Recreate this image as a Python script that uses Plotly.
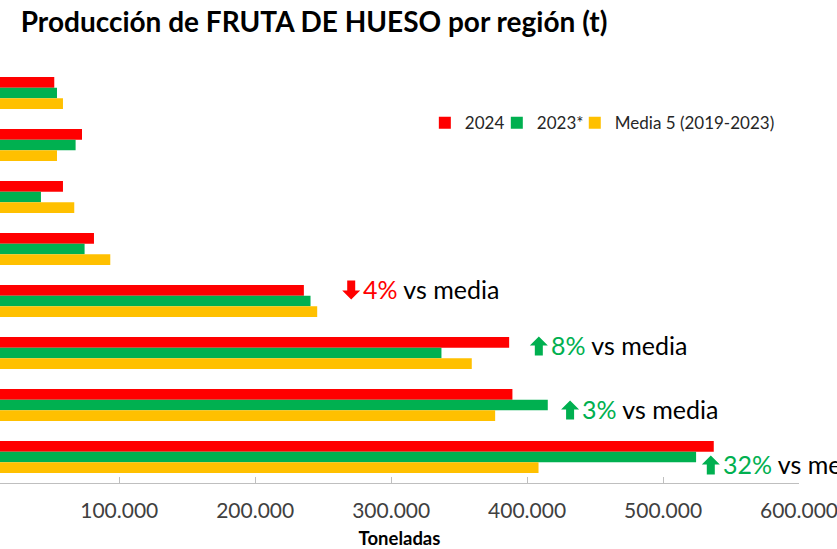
import plotly.graph_objects as go

regions = ["Región A", "Región B", "Región C", "Región D",
           "Región E", "Región F", "Región G", "Región H"]
v2024 = [52200, 72600, 58600, 81400, 235800, 386800, 389200, 537300]
v2023 = [54200, 67900, 42400, 74500, 240700, 337000, 415200, 524300]
media5 = [58600, 54200, 66900, 93400, 245600, 359300, 376500, 408400]
series_names = ["2024", "2023*", "Media 5 (2019-2023)"]
colors = ["#FF0000", "#00B050", "#FFC000"]

# annotated regions: index, x position of label, vertical shift (px)
annot_idx = [4, 5, 6, 7]
annot_x = [264000, 402000, 425000, 528500]
annot_shift = [12, 8, -4, -7]

FONT = "Lato"
PLOT_W = 799.3
X_RANGE = [12280, 600000]

fig = go.Figure()
legend_ids = ["legend", "legend2", "legend3"]
for name, vals, col, lg in zip(series_names, [v2024, v2023, media5], colors, legend_ids):
    fig.add_trace(go.Bar(y=regions, x=vals, name=name, orientation="h", legend=lg,
                         marker=dict(color=col, line=dict(width=0))))
# invisible trace so the overlay axis (inside tick marks + axis line) is drawn
fig.add_trace(go.Scatter(x=[X_RANGE[0]], y=[regions[0]], xaxis="x2", yaxis="y",
                         mode="markers", marker=dict(opacity=0), showlegend=False,
                         hoverinfo="skip"))

for i, ax, sh in zip(annot_idx, annot_x, annot_shift):
    pct = round((v2024[i] / media5[i] - 1) * 100)
    col = "#FF0000" if pct < 0 else "#00B050"
    if pct < 0:
        path = "M9,-9.5 L18,-0.5 L13,-0.5 L13,9.5 L5,9.5 L5,-0.5 L0,-0.5 Z"
    else:
        path = "M9,9.5 L18,0.5 L13,0.5 L13,-9.5 L5,-9.5 L5,0.5 L0,0.5 Z"
    pts = []
    for tok in path.split():
        cmd = tok[0] if tok[0].isalpha() else ""
        rest = tok[1:] if cmd else tok
        if rest:
            px, py = rest.split(",")
            pts.append(f"{cmd}{float(px)},{float(py) + sh - 1}")
        else:
            pts.append(cmd)
    fig.add_shape(type="path", path=" ".join(pts), xref="x", yref="y",
                  xsizemode="pixel", ysizemode="pixel", xanchor=ax, yanchor=regions[i],
                  fillcolor=col, line=dict(width=0), layer="above")
    txt = f"<span style='color:{col}'>{abs(pct)}%</span> vs media"
    fig.add_annotation(x=ax, y=regions[i], xref="x", yref="y", text=txt,
                       showarrow=False, xanchor="left", yanchor="middle",
                       xshift=19, yshift=sh,
                       font=dict(family=FONT, size=25, color="#000000"))

legend_common = dict(orientation="h", xanchor="left", y=0.865, yanchor="middle",
                     font=dict(family=FONT, size=17, color="#262626"),
                     itemwidth=30, bgcolor="rgba(0,0,0,0)")
legend_px = [425, 497, 575]

fig.update_layout(
    width=837, height=549,
    margin=dict(l=0, r=38, t=67, b=66, autoexpand=False),
    paper_bgcolor="white", plot_bgcolor="white",
    barmode="group", bargap=0.38, bargroupgap=0,
    separators=",.",
    font=dict(family=FONT, color="#404040"),
    title=dict(text="<b>Producción de FRUTA DE HUESO por región (t)</b>",
               x=0.026, xanchor="left", xref="paper", y=0.96, yanchor="middle",
               font=dict(family=FONT, size=28, color="#000000")),
    legend=dict(x=legend_px[0] / PLOT_W, **legend_common),
    legend2=dict(x=legend_px[1] / PLOT_W, **legend_common),
    legend3=dict(x=legend_px[2] / PLOT_W, **legend_common),
    showlegend=True,
    xaxis=dict(range=X_RANGE, tickmode="linear", tick0=0, dtick=100000,
               tickformat=",d", showgrid=False, zeroline=False, automargin=False,
               showline=False, ticks="outside", ticklen=9,
               tickcolor="rgba(0,0,0,0)", ticklabeloverflow="allow",
               tickfont=dict(family=FONT, size=21, color="#404040"),
               title=dict(text="<b>Toneladas</b>", standoff=15,
                          font=dict(family=FONT, size=18.5, color="#000000"))),
    xaxis2=dict(overlaying="x", anchor="y", side="bottom", range=X_RANGE,
                tickmode="linear", tick0=0, dtick=100000, automargin=False,
                showticklabels=False, showgrid=False, zeroline=False,
                showline=True, linecolor="#BFBFBF", linewidth=1,
                ticks="inside", ticklen=6, tickcolor="#BFBFBF"),
    yaxis=dict(autorange="reversed", showticklabels=False, showgrid=False,
               zeroline=False, showline=False, ticks="", automargin=False),
)

fig.write_html("out.html", config={"displayModeBar": False},
               post_script="document.body.style.margin='0';")
